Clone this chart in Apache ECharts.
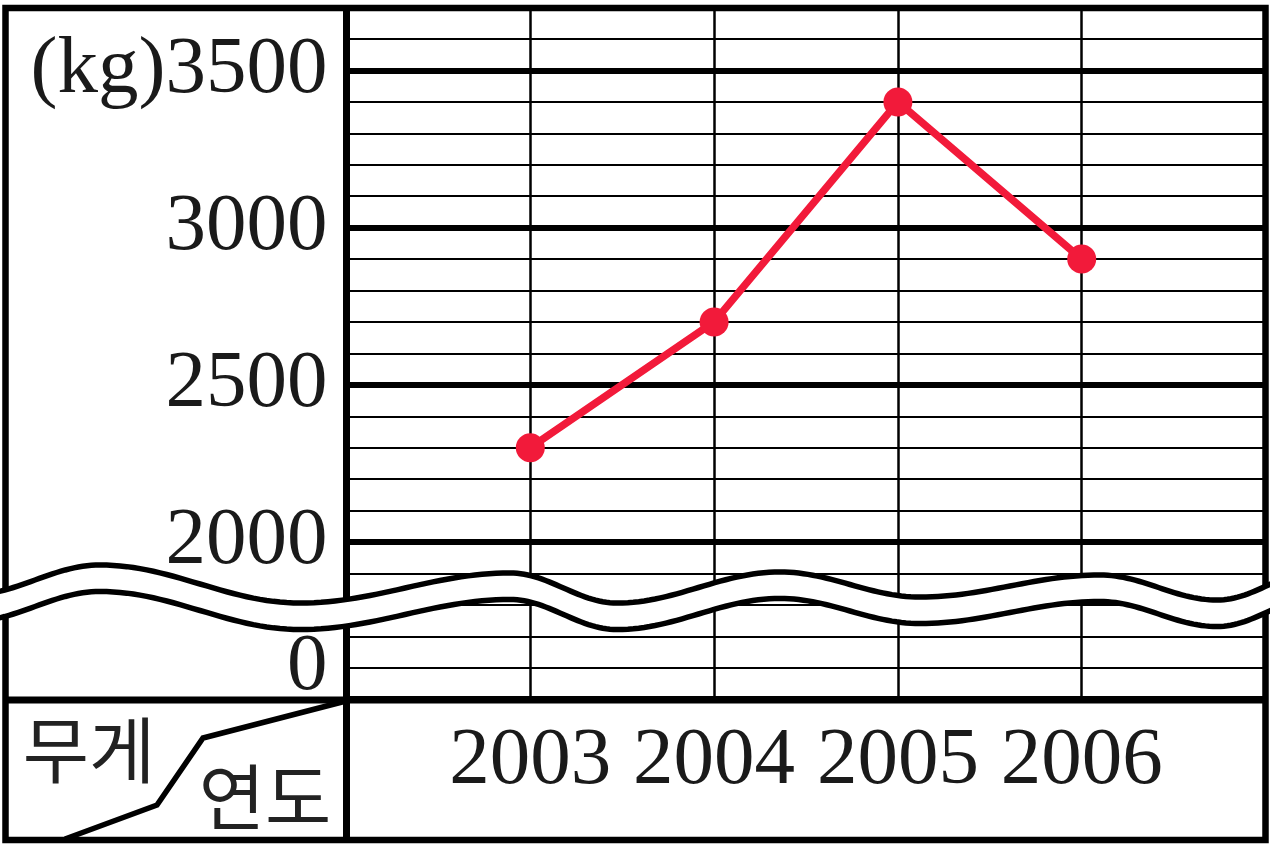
<!DOCTYPE html>
<html><head><meta charset="utf-8">
<script src="https://cdn.jsdelivr.net/npm/echarts@6/dist/echarts.min.js"></script>
<style>html,body{margin:0;padding:0;background:#fff}#c{width:1270px;height:844px}</style>
</head><body><div id="c"></div>
<script>
// ---- data ----
const years = [2003, 2004, 2005, 2006];
const weights = [2300, 2700, 3400, 2900];
// broken y axis: the tick drawn just above the bottom stands for 0
const yTickValues = [1600, 2000, 2500, 3000, 3500];
const yTickLabels = ['0', '2000', '2500', '3000', '(kg)3500'];
const rowHeader = '무게';
const colHeader = '연도';

// ---- decoration geometry (not data) ----
const waveKeys = [[-30,595],[100,565],[300,603],[510,573],[617,603],[780,572],[920,597],[1100,575],[1217,600],[1320,570]];
function wave(offset){
  const pts = [];
  for (let k = 0; k < waveKeys.length - 1; k++){
    const [x0,y0] = waveKeys[k], [x1,y1] = waveKeys[k+1];
    for (let s = 0; s < 30; s++){
      const t = s/30, f = (1 - Math.cos(Math.PI*t))/2;
      pts.push([x0 + (x1-x0)*t, y0 + (y1-y0)*f + offset]);
    }
  }
  const last = waveKeys[waveKeys.length-1];
  pts.push([last[0], last[1] + offset]);
  return pts;
}
const upper = wave(0), lower = wave(26.5);

const serif = '"Liberation Serif", "DejaVu Serif", serif';
const chart = echarts.init(document.getElementById('c'), null, {renderer: 'canvas'});
chart.setOption({
  animation: false,
  backgroundColor: '#fff',
  grid: {left: 346.5, right: 4.5, top: 7.6, bottom: 144.8, containLabel: false},
  xAxis: {
    type: 'value', min: 2002, max: 2007, interval: 1,
    axisLine: {show: false}, axisTick: {show: false},
    splitLine: {show: true, lineStyle: {color: '#000', width: 2.5}},
    axisLabel: {
      formatter: v => years.includes(v) ? String(v) : '',
      fontFamily: serif, fontSize: 81, color: '#1a1a1a',
      margin: 63, verticalAlign: 'middle', lineHeight: 81,
      hideOverlap: false
    }
  },
  yAxis: [{
    type: 'value', min: 1500, max: 3700, interval: 100,
    axisLine: {show: false}, axisTick: {show: false},
    splitLine: {show: true, lineStyle: {color: '#000', width: 2}},
    axisLabel: {
      formatter: v => { const i = yTickValues.indexOf(v); return i >= 0 ? yTickLabels[i] : ''; },
      fontFamily: serif, fontSize: 81, color: '#1a1a1a', margin: 19,
      hideOverlap: false
    }
  }, {
    type: 'value', min: 1500, max: 3700, interval: 500, position: 'left',
    axisLine: {show: false}, axisTick: {show: false}, axisLabel: {show: false},
    splitLine: {show: true, lineStyle: {color: '#000', width: 6}}
  }],
  series: [{
    type: 'line', yAxisIndex: 0,
    data: years.map((y, i) => [y, weights[i]]),
    symbol: 'circle', symbolSize: 29,
    lineStyle: {color: '#f21a3a', width: 7.5},
    itemStyle: {color: '#f21a3a'},
    z: 5
  }],
  graphic: [
    {type: 'rect', z: 50, shape: {x: 5.5, y: 8, width: 1260, height: 832}, style: {fill: null, stroke: '#000', lineWidth: 6.5}},
    {type: 'line', z: 50, shape: {x1: 346.5, y1: 8, x2: 346.5, y2: 840}, style: {stroke: '#000', lineWidth: 7}},
    {type: 'line', z: 50, shape: {x1: 5, y1: 700, x2: 1266, y2: 700}, style: {stroke: '#000', lineWidth: 7}},
    {type: 'polyline', z: 50, shape: {points: [[65,839],[157,805],[203,738],[346,701]]}, style: {fill: null, stroke: '#000', lineWidth: 5.5}},
    {type: 'text', z: 50, style: {text: rowHeader, x: 89, y: 750, align: 'center', verticalAlign: 'middle', font: '72px "Noto Sans CJK KR"', fill: '#222'}},
    {type: 'text', z: 50, style: {text: colHeader, x: 265, y: 797, align: 'center', verticalAlign: 'middle', font: '72px "Noto Sans CJK KR"', fill: '#222'}},
    {type: 'polygon', z: 100, shape: {points: upper.concat(lower.slice().reverse())}, style: {fill: '#fff', stroke: null}},
    {type: 'polyline', z: 101, shape: {points: upper}, style: {fill: null, stroke: '#000', lineWidth: 5.5}},
    {type: 'polyline', z: 101, shape: {points: lower}, style: {fill: null, stroke: '#000', lineWidth: 5.5}}
  ]
});
</script></body></html>
